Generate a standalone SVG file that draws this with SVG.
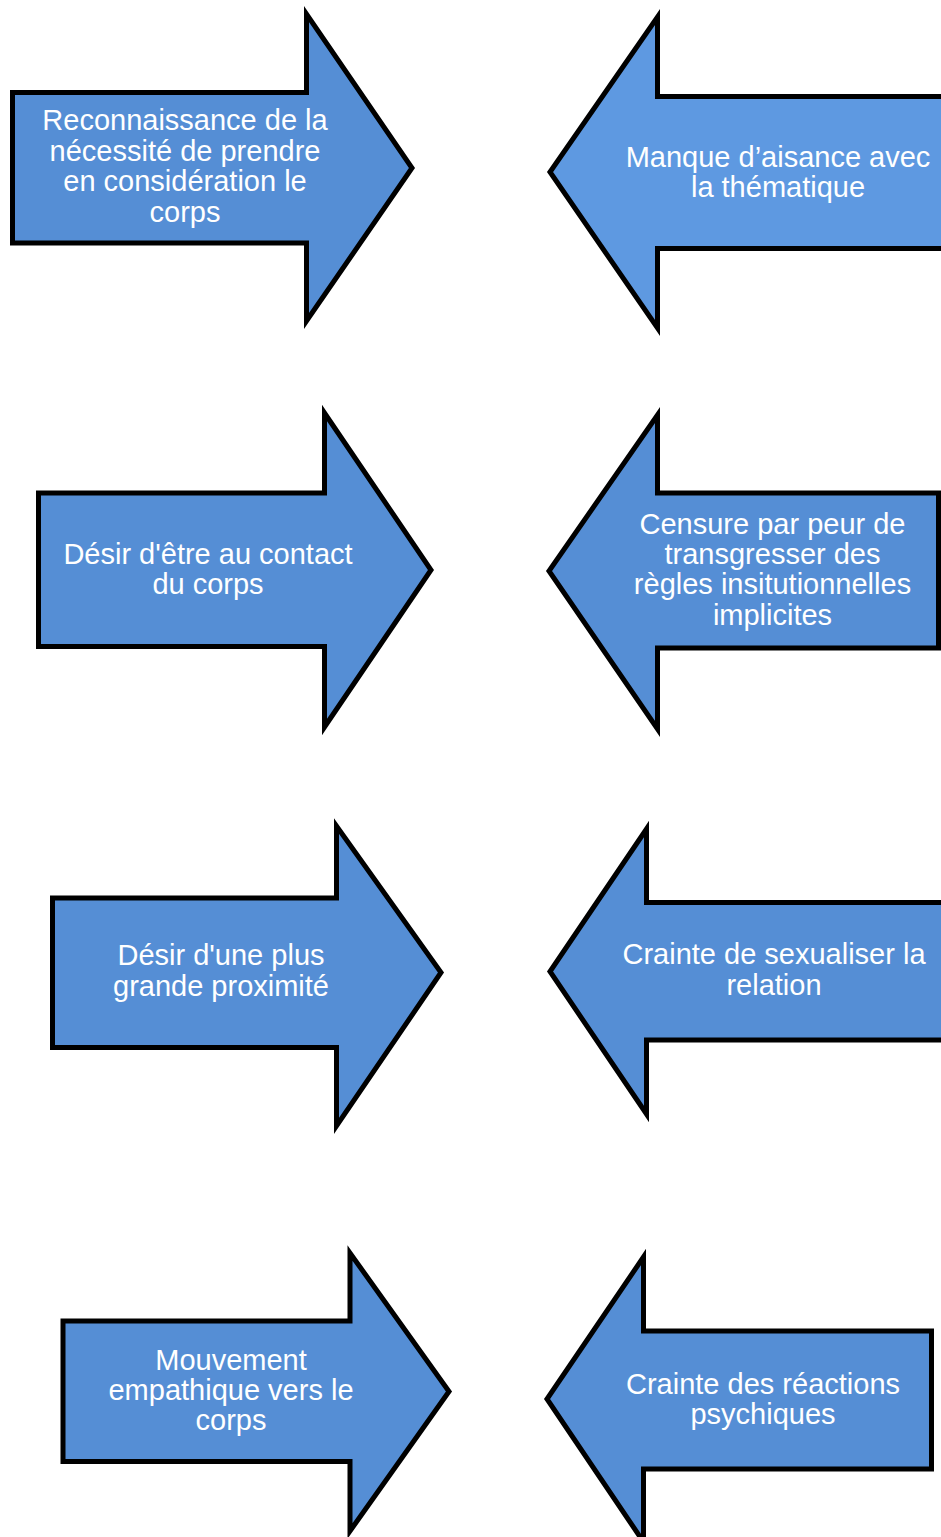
<svg xmlns="http://www.w3.org/2000/svg" width="941" height="1537" viewBox="0 0 941 1537">
<style>
.a{fill:#558ED5;stroke:#000;stroke-width:5;stroke-linejoin:miter;stroke-miterlimit:10}
.b{fill:#5E99E1}
.t{font-family:"Liberation Sans",Arial,sans-serif;font-size:29px;fill:#fff;text-anchor:middle}
</style>
<rect width="941" height="1537" fill="#fff"/>
<g id="connectors"></g>
<g id="n1">
<path class="a" d="M12.5,92.5 H306.5 V14 L412,168 L306.5,321 V243 H12.5 Z"/>
<text class="t"><tspan x="185" y="130">Reconnaissance de la</tspan><tspan x="185" y="160.5">nécessité de prendre</tspan><tspan x="185" y="191">en considération le</tspan><tspan x="185" y="221.5">corps</tspan></text>
</g>
<g id="n2">
<path class="a b" d="M948,96.5 H657.5 V17 L550,172 L657.5,328 V248.5 H948 Z"/>
<text class="t"><tspan x="778" y="166.5">Manque d’aisance avec</tspan><tspan x="778" y="196.5">la thématique</tspan></text>
</g>
<g id="n3">
<path class="a" d="M38.5,493 H324.5 V413 L431,570 L324.5,727 V646.5 H38.5 Z"/>
<text class="t"><tspan x="208" y="563.5">Désir d'être au contact</tspan><tspan x="208" y="593.5">du corps</tspan></text>
</g>
<g id="n4">
<path class="a" d="M938.5,493 H657.5 V415 L549,571 L657.5,729 V648 H938.5 Z"/>
<text class="t"><tspan x="772.5" y="533.5">Censure par peur de</tspan><tspan x="772.5" y="563.5">transgresser des</tspan><tspan x="772.5" y="594">règles insitutionnelles</tspan><tspan x="772.5" y="624.5">implicites</tspan></text>
</g>
<g id="n5">
<path class="a" d="M52.5,898 H336.5 V826 L441,972.5 L336.5,1126 V1047.5 H52.5 Z"/>
<text class="t"><tspan x="221" y="965">Désir d'une plus</tspan><tspan x="221" y="995.5">grande proximité</tspan></text>
</g>
<g id="n6">
<path class="a" d="M948,902.5 H646.5 V829 L550,971.5 L646.5,1114 V1040 H948 Z"/>
<text class="t"><tspan x="774" y="964">Crainte de sexualiser la</tspan><tspan x="774" y="994.5">relation</tspan></text>
</g>
<g id="n7">
<path class="a" d="M63,1321 H350 V1253 L449,1391.5 L350,1531 V1461.5 H63 Z"/>
<text class="t"><tspan x="231" y="1369.5">Mouvement</tspan><tspan x="231" y="1399.5">empathique vers le</tspan><tspan x="231" y="1430">corps</tspan></text>
</g>
<g id="n8">
<path class="a" d="M931.5,1331 H643.5 V1257 L547,1399 L643.5,1542 V1469 H931.5 Z"/>
<text class="t"><tspan x="763" y="1393.5">Crainte des réactions</tspan><tspan x="763" y="1423.5">psychiques</tspan></text>
</g>
</svg>
